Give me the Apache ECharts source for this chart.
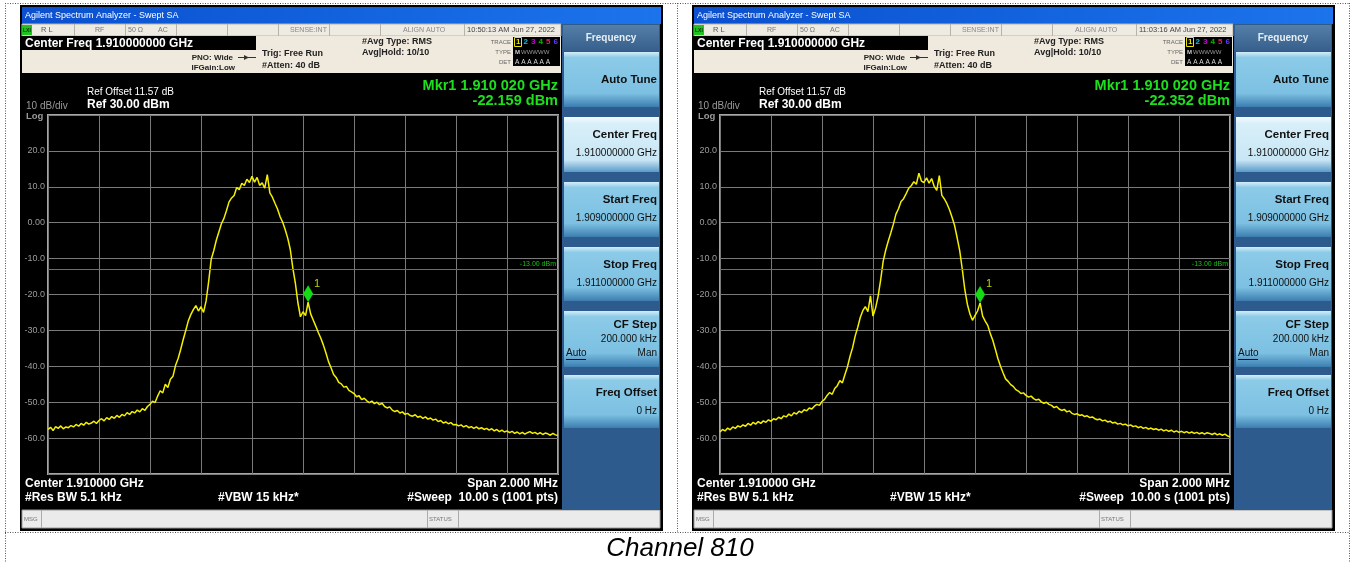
<!DOCTYPE html>
<html>
<head>
<meta charset="utf-8">
<title>Channel 810</title>
<script src="https://cdn.jsdelivr.net/npm/echarts@6/dist/echarts.min.js"></script>
<style>
  html, body { margin: 0; padding: 0; background: #fff; }
  #chart { width: 1354px; height: 562px; }
</style>
</head>
<body>
<div id="chart"></div>
<script>
// Sweep: 1.909 GHz .. 1.911 GHz, one reading every 10 kHz (201 readings), dBm
const sweepStepKHz = 10;
const sweepStartKHz = 1909000;

const traceA = [
  -57.6, -57.0, -57.9, -56.8, -57.3, -56.6, -57.4, -56.9, -57.1, -56.5,
  -56.9, -56.2, -56.7, -55.9, -56.4, -55.6, -56.1, -55.8, -55.3, -55.9,
  -55.1, -54.6, -55.2, -54.3, -54.8, -54.0, -54.5, -53.7, -54.2, -53.4,
  -53.8, -52.9, -53.4, -52.6, -53.0, -52.2, -52.7, -51.8, -52.3, -51.2,
  -50.6, -49.7, -50.1, -48.3, -46.8, -47.4, -45.0, -45.9, -43.6, -42.8,
  -39.8, -37.9, -35.4, -32.6, -30.1, -27.4, -25.6, -24.2, -23.1, -24.6,
  -23.4, -25.0, -21.8, -16.4, -10.2, -7.8, -4.9, -2.6, -0.3, 1.2,
  3.4, 5.8, 6.9, 7.6, 9.8, 9.2, 11.0, 10.4, 12.1, 11.2,
  12.9, 11.3, 12.6, 10.4, 11.1, 9.6, 13.4, 8.3, 7.1, 5.4,
  3.8, 1.7, 0.2, -1.9, -4.3, -7.4, -12.6, -16.8, -22.3, -26.2,
  -24.8, -25.9, -22.159, -25.4, -27.1, -28.8, -30.6, -32.2, -34.1, -36.3,
  -38.7, -40.4, -42.3, -43.1, -44.5, -44.9, -45.8, -45.6, -46.7, -47.1,
  -47.6, -48.5, -48.2, -49.3, -48.9, -49.6, -50.1, -49.7, -50.4, -50.0,
  -50.7, -50.3, -51.2, -51.6, -51.3, -52.2, -52.6, -52.3, -53.0, -52.7,
  -53.4, -53.1, -53.7, -53.9, -53.5, -54.2, -53.9, -54.5, -54.1, -54.7,
  -54.4, -55.0, -54.7, -55.4, -55.1, -55.8, -55.5, -56.0, -55.7, -56.3,
  -56.2, -56.6, -56.3, -56.9, -56.5, -57.1, -56.8, -57.3, -56.9, -57.4,
  -57.1, -57.6, -57.3, -57.8, -57.4, -58.0, -57.6, -58.2, -57.8, -58.3,
  -58.0, -58.5, -58.1, -58.7, -58.3, -58.8, -58.4, -58.9, -58.5, -58.2,
  -58.7, -58.4, -58.9, -58.5, -59.0, -58.6, -58.8, -59.2, -58.7, -59.1,
  -59.3
];

const traceB = [
  -58.3, -57.6, -58.0, -57.2, -57.7, -56.9, -57.3, -56.6, -56.9, -56.3,
  -56.7, -55.9, -56.4, -55.6, -56.1, -55.4, -55.9, -55.2, -55.6, -54.9,
  -55.3, -54.6, -54.9, -54.2, -54.6, -53.8, -54.1, -53.3, -53.8, -52.9,
  -53.3, -52.5, -52.9, -52.1, -52.4, -51.6, -51.9, -51.1, -50.6, -50.9,
  -49.8, -49.2, -48.1, -47.3, -47.8, -46.2, -45.4, -44.0, -44.6, -42.3,
  -40.1, -37.2, -34.8, -31.6, -29.2, -26.4, -24.5, -23.4, -24.8, -20.4,
  -26.0, -23.8, -20.5, -15.9, -10.7, -7.6, -5.1, -2.8, -0.4, 2.4,
  3.9, 5.9, 6.7, 8.1, 9.6, 10.3, 11.4, 10.7, 13.8, 11.6,
  11.2, 12.5, 11.0, 12.3, 10.1, 9.0, 13.1, 7.6, 6.6, 5.3,
  3.6, 1.5, -0.8, -4.2, -7.8, -12.9, -18.6, -22.7, -25.4, -27.2,
  -25.9, -24.6, -22.352, -26.0, -27.4, -28.6, -30.9, -32.8, -35.3, -37.9,
  -40.0, -41.8, -43.5, -44.2, -45.1, -45.6, -46.5, -46.9, -47.6, -47.4,
  -48.1, -48.6, -48.3, -49.0, -49.4, -49.2, -49.9, -50.3, -50.0, -50.6,
  -50.9, -51.5, -51.2, -51.9, -52.3, -52.0, -52.7, -52.4, -53.1, -53.4,
  -53.2, -53.7, -53.5, -54.0, -53.8, -54.3, -54.1, -54.6, -54.9, -54.7,
  -55.2, -55.0, -55.5, -55.3, -55.8, -55.6, -56.1, -55.9, -56.3, -56.1,
  -56.6, -56.3, -56.8, -56.6, -57.1, -56.8, -57.3, -57.0, -57.5, -57.2,
  -57.6, -57.4, -57.8, -57.5, -58.0, -57.7, -58.1, -57.8, -58.3, -58.0,
  -58.4, -58.1, -58.5, -58.2, -58.6, -58.3, -58.7, -58.4, -58.8, -58.5,
  -58.9, -58.5, -58.7, -59.0, -58.6, -59.1, -58.8, -59.2, -58.9, -59.4,
  -59.6
];

// Marker 1 on each screen (offset from sweep start in kHz, level in dBm)
const markerOffsetKHz = [1020, 1020];
const markerDbm = [-22.159, -22.352];

// Limit line
const limitDbm = -13;

// Screen time stamps
const screenTimes = ['10:50:13 AM Jun 27, 2022', '11:03:16 AM Jun 27, 2022'];

// Amplitude axis ticks (dBm) and their printed labels
const yTicks = [20, 10, 0, -10, -20, -30, -40, -50, -60];
const yTickLabels = ['20.0', '10.0', '0.00', '-10.0', '-20.0', '-30.0', '-40.0', '-50.0', '-60.0'];

const FF = '"Liberation Sans", Arial, sans-serif';
const SCREEN_SHIFT = 672;

function mkrFreqText(offKHz) {
  const g = ((sweepStartKHz + offKHz) / 1e6).toFixed(6);
  return 'Mkr1 ' + g.slice(0, 5) + ' ' + g.slice(5) + ' GHz';
}

// Instrument chrome around one plot
function screenParts(ox, idx) {
  const E = [];
  const R = (x, y, w, h, fill, stroke, lw) => E.push({
    type: 'rect', silent: true, z: 0,
    shape: { x: x + ox, y: y, width: w, height: h },
    style: { fill: fill, stroke: stroke || null, lineWidth: lw || 1 }
  });
  const L = (x1, y1, x2, y2, stroke, lw) => E.push({
    type: 'line', silent: true, z: 0,
    shape: { x1: x1 + ox, y1: y1, x2: x2 + ox, y2: y2 },
    style: { stroke: stroke, lineWidth: lw || 1 }
  });
  const T = (x, y, text, font, fill, align) => E.push({
    type: 'text', silent: true, z: 1, x: x + ox, y: y,
    style: {
      text: text, font: font, fill: fill,
      align: align || 'left', verticalAlign: 'middle',
      textAlign: align || 'left', textVerticalAlign: 'middle'
    }
  });
  const grad = (stops) => new echarts.graphic.LinearGradient(0, 0, 0, 1,
    stops.map((c) => ({ offset: c[0], color: c[1] })));

  // frame
  R(20, 5, 643, 526, '#000');
  // title bar
  R(22, 7, 639, 17, new echarts.graphic.LinearGradient(0, 0, 1, 0, [
    { offset: 0, color: '#0a4fcf' }, { offset: 0.6, color: '#1466e0' }, { offset: 1, color: '#1c74ec' }]));
  T(25, 15.5, 'Agilent Spectrum Analyzer - Swept SA', '9px ' + FF, '#ffffff');

  // status row
  R(22, 24, 539, 12, '#eeebe3', '#b6b3ab');
  [74, 125, 176, 227, 278, 329, 380, 464].forEach(x => L(x + 0.5, 24, x + 0.5, 36, '#b6b3ab'));
  R(22, 25, 10, 10, '#1fc21f');
  T(23, 30.5, 'LXI', 'bold 5px ' + FF, '#063006');
  T(41, 30, 'R L', '7.5px ' + FF, '#555');
  T(95, 30, 'RF', '7px ' + FF, '#777');
  T(128, 30, '50 Ω', '7px ' + FF, '#777');
  T(158, 30, 'AC', '7px ' + FF, '#777');
  T(290, 30, 'SENSE:INT', '7px ' + FF, '#888');
  T(403, 30, 'ALIGN AUTO', '7px ' + FF, '#888');
  T(467, 30, screenTimes[idx], '7.5px ' + FF, '#444');

  // settings strip
  R(22, 36, 539, 37, '#efeadd');
  R(22, 36, 234, 14, '#000');
  T(25, 43.5, 'Center Freq 1.910000000 GHz', 'bold 12px ' + FF, '#ffffff');
  T(233, 57.5, 'PNO: Wide', 'bold 8px ' + FF, '#222', 'right');
  L(238, 57.5, 256, 57.5, '#333');
  E.push({ type: 'polygon', silent: true, z: 0,
    shape: { points: [[244 + ox, 55], [249 + ox, 57.5], [244 + ox, 60]] }, style: { fill: '#333' } });
  T(235, 67.5, 'IFGain:Low', 'bold 8px ' + FF, '#222', 'right');
  T(262, 54, 'Trig: Free Run', 'bold 9px ' + FF, '#222');
  T(262, 66, '#Atten: 40 dB', 'bold 9px ' + FF, '#222');
  T(362, 42, '#Avg Type: RMS', 'bold 9px ' + FF, '#222');
  T(362, 53, 'Avg|Hold: 10/10', 'bold 9px ' + FF, '#222');

  // trace status box
  R(513, 37, 47, 29, '#000');
  T(511, 42, 'TRACE', '6px ' + FF, '#666', 'right');
  T(511, 52, 'TYPE', '6px ' + FF, '#666', 'right');
  T(511, 62, 'DET', '6px ' + FF, '#666', 'right');
  const tc = ['#e6e600', '#00c8e0', '#d000d0', '#00b800', '#e0205a', '#5a3cff'];
  R(514.5, 37.5, 7, 9, null, '#e6e600', 1);
  tc.forEach((c, k) => T(516 + k * 7.5, 42, String(k + 1), 'bold 8px ' + FF, c));
  T(515, 52, 'M', 'bold 6px ' + FF, '#ccc');
  T(521, 52, 'WWWWW', '6px ' + FF, '#999');
  T(515, 62, 'A A A A A A', '6.5px ' + FF, '#ddd');

  // plot header texts
  T(87, 92, 'Ref Offset 11.57 dB', '10px ' + FF, '#ffffff');
  T(87, 105, 'Ref 30.00 dBm', 'bold 12px ' + FF, '#ffffff');
  T(26, 106.5, '10 dB/div', '10px ' + FF, '#9a9a9a');
  T(26, 116, 'Log', 'bold 9.5px ' + FF, '#9a9a9a');
  T(558, 86, mkrFreqText(markerOffsetKHz[idx]), 'bold 14.5px ' + FF, '#1de01d', 'right');
  T(558, 101, markerDbm[idx].toFixed(3) + ' dBm', 'bold 14.5px ' + FF, '#1de01d', 'right');

  // plot footer texts
  T(25, 483.5, 'Center 1.910000 GHz', 'bold 12px ' + FF, '#ffffff');
  T(25, 498, '#Res BW 5.1 kHz', 'bold 12px ' + FF, '#ffffff');
  T(218, 498, '#VBW 15 kHz*', 'bold 12px ' + FF, '#ffffff');
  T(558, 483.5, 'Span 2.000 MHz', 'bold 12px ' + FF, '#ffffff', 'right');
  T(558, 498, '#Sweep  10.00 s (1001 pts)', 'bold 12px ' + FF, '#ffffff', 'right');

  // message / status bar
  R(22, 510, 638, 18, '#ebebeb', '#9a9a9a');
  L(41.5, 510, 41.5, 528, '#aaa');
  L(427.5, 510, 427.5, 528, '#aaa');
  L(458.5, 510, 458.5, 528, '#aaa');
  T(24, 519, 'MSG', '6px ' + FF, '#777');
  T(429, 519, 'STATUS', '6px ' + FF, '#777');

  // soft key panel
  R(562, 24, 98, 486, '#2d5b8d');
  R(563, 25, 96, 26, grad([[0, '#557fa8'], [1, '#365f8b']]));
  T(611, 38, 'Frequency', 'bold 10px ' + FF, '#e6eef6', 'center');
  const keys = [
    { y: 52, h: 55, lines: ['Auto Tune'] },
    { y: 117, h: 55, sel: true, lines: ['Center Freq', '1.910000000 GHz'] },
    { y: 182, h: 55, lines: ['Start Freq', '1.909000000 GHz'] },
    { y: 247, h: 54, lines: ['Stop Freq', '1.911000000 GHz'] },
    { y: 311, h: 56, lines: ['CF Step', '200.000 kHz'], autoMan: true },
    { y: 375, h: 53, lines: ['Freq Offset', '0 Hz'] }
  ];
  keys.forEach(k => {
    R(564, k.y, 95, k.h, k.sel
      ? grad([[0, '#f4fbfe'], [0.12, '#d8eff9'], [0.78, '#c9e6f5'], [1, '#5a9bc8']])
      : grad([[0, '#d4edf8'], [0.1, '#8ccbe8'], [0.75, '#7cc0e2'], [1, '#3c7db0']]));
    if (k.lines.length === 1) {
      T(657, k.y + k.h / 2, k.lines[0], 'bold 11.5px ' + FF, '#101010', 'right');
    } else if (k.autoMan) {
      T(657, k.y + 14, k.lines[0], 'bold 11.5px ' + FF, '#101010', 'right');
      T(657, k.y + 28, k.lines[1], '10px ' + FF, '#101010', 'right');
      T(566, k.y + 42, 'Auto', '10px ' + FF, '#101010');
      L(566, k.y + 48.5, 586, k.y + 48.5, '#101010');
      T(657, k.y + 42, 'Man', '10px ' + FF, '#101010', 'right');
    } else {
      T(657, k.y + 18, k.lines[0], 'bold 11.5px ' + FF, '#101010', 'right');
      T(657, k.y + 36, k.lines[1], '10px ' + FF, '#101010', 'right');
    }
  });
  return E;
}

function pageParts() {
  const E = [];
  const D = (x1, y1, x2, y2) => E.push({
    type: 'line', silent: true, z: 0,
    shape: { x1: x1, y1: y1, x2: x2, y2: y2 },
    style: { stroke: '#555', lineWidth: 1, lineDash: [1, 1.5] }
  });
  D(5, 3.5, 1350, 3.5);
  D(5.5, 3, 5.5, 562);
  D(1349.5, 3, 1349.5, 562);
  D(677.5, 3, 677.5, 532);
  D(5, 532.5, 1350, 532.5);
  E.push({
    type: 'text', silent: true, z: 1, x: 680, y: 549,
    style: { text: 'Channel 810', font: 'italic 26px ' + FF, fill: '#000',
      align: 'center', verticalAlign: 'middle', textAlign: 'center', textVerticalAlign: 'middle' }
  });
  return E;
}

const chart = echarts.init(document.getElementById('chart'), null, { renderer: 'canvas' });

function makeGrid(left) {
  return { left: left, top: 115, width: 510, height: 359, show: true,
    backgroundColor: '#000', borderColor: '#a6a6a6', borderWidth: 2, z: 3 };
}
function makeX(gi) {
  return { type: 'value', gridIndex: gi, min: 0, max: 2000, interval: 200, z: 3,
    axisLine: { show: false }, axisTick: { show: false }, axisLabel: { show: false },
    splitLine: { show: true, lineStyle: { color: '#7a7a7a', width: 1 } } };
}
function makeY(gi) {
  return { type: 'value', gridIndex: gi, min: -70, max: 30, interval: 10, z: 3,
    axisLine: { show: false }, axisTick: { show: false },
    axisLabel: { show: true, margin: 3, fontSize: 9, color: '#9c9c9c', fontFamily: FF,
      formatter: v => { const k = yTicks.indexOf(v); return k < 0 ? '' : yTickLabels[k]; } },
    splitLine: { show: true, lineStyle: { color: '#7a7a7a', width: 1 } } };
}
function makeTrace(gi, values) {
  return {
    type: 'line', xAxisIndex: gi, yAxisIndex: gi, z: 4,
    data: values.map((v, i) => [i * sweepStepKHz, v]),
    symbol: 'none', silent: true,
    lineStyle: { color: '#f4f000', width: 1.5 },
    markLine: {
      silent: true, symbol: 'none', animation: false,
      data: [{ yAxis: limitDbm }],
      lineStyle: { color: '#12b012', width: 1, type: 'solid' },
      label: { position: 'insideEndTop', formatter: limitDbm.toFixed(2) + ' dBm',
        color: '#16c016', fontSize: 7, fontFamily: FF, distance: 2 }
    },
    markPoint: {
      silent: true, animation: false,
      data: [{ coord: [markerOffsetKHz[gi], markerDbm[gi]] }],
      symbol: 'diamond', symbolSize: [10, 17], symbolOffset: [0, '-50%'],
      itemStyle: { color: '#14dc14' },
      label: { show: true, formatter: '1', position: [11, -7], color: '#b8d800',
        fontSize: 11, fontFamily: FF }
    }
  };
}

chart.setOption({
  backgroundColor: '#ffffff',
  animation: false,
  graphic: { elements: pageParts().concat(screenParts(0, 0), screenParts(SCREEN_SHIFT, 1)) },
  grid: [makeGrid(48), makeGrid(48 + SCREEN_SHIFT)],
  xAxis: [makeX(0), makeX(1)],
  yAxis: [makeY(0), makeY(1)],
  series: [makeTrace(0, traceA), makeTrace(1, traceB)]
});
</script>
</body>
</html>
